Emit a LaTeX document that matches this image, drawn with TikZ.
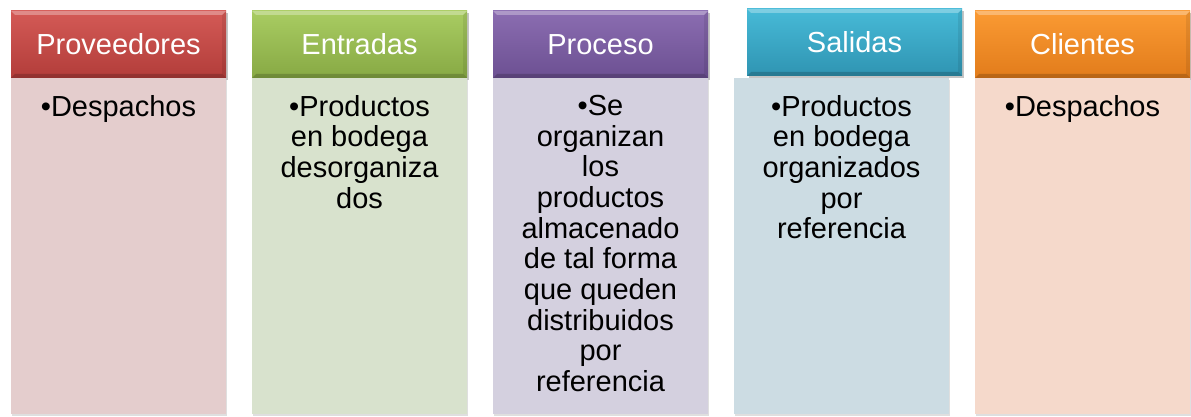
\documentclass[tikz,border=0pt]{standalone}
\usepackage{fontspec}
\setmainfont{Liberation Sans}
\usepackage{tikz}
\usetikzlibrary{positioning,shadows}

% Header and body colours
\definecolor{c1top}{HTML}{D45A56}\definecolor{c1bot}{HTML}{B23D3A}\definecolor{c1body}{HTML}{E4CDCD}
\definecolor{c2top}{HTML}{A9CC62}\definecolor{c2bot}{HTML}{87A944}\definecolor{c2body}{HTML}{D8E2CD}
\definecolor{c3top}{HTML}{8B6DB1}\definecolor{c3bot}{HTML}{6C5092}\definecolor{c3body}{HTML}{D4D0DF}
\definecolor{c4top}{HTML}{47BAD7}\definecolor{c4bot}{HTML}{2F94B2}\definecolor{c4body}{HTML}{CCDCE3}
\definecolor{c5top}{HTML}{FA9A33}\definecolor{c5bot}{HTML}{E27C1B}\definecolor{c5body}{HTML}{F5D9CB}

\tikzset{
  bevel/.style={path picture={
    \fill[white,opacity=.3] (path picture bounding box.north west) -- (path picture bounding box.north east)
      -- ([xshift=-3pt,yshift=-3pt]path picture bounding box.north east) -- ([xshift=3pt,yshift=-3pt]path picture bounding box.north west) -- cycle;
    \fill[black,opacity=.18] (path picture bounding box.south west) -- (path picture bounding box.south east)
      -- ([xshift=-3pt,yshift=3pt]path picture bounding box.south east) -- ([xshift=3pt,yshift=3pt]path picture bounding box.south west) -- cycle;
    \fill[black,opacity=.08] (path picture bounding box.north east) -- (path picture bounding box.south east)
      -- ([xshift=-3pt,yshift=3pt]path picture bounding box.south east) -- ([xshift=-3pt,yshift=-3pt]path picture bounding box.north east) -- cycle;
  }},
  header/.style={minimum width=161.25pt, minimum height=50.25pt, inner sep=0pt, text=white,
    font=\fontsize{21.75}{23}\selectfont, bevel,
    drop shadow={shadow xshift=1.2pt, shadow yshift=-1.8pt, opacity=.45}},
  bodybox/.style={minimum width=161.25pt, minimum height=252pt, inner sep=0pt, anchor=north,
    drop shadow={shadow xshift=1pt, shadow yshift=-1pt, opacity=.25}},
  bodytext/.style={align=center, inner sep=0pt, anchor=north, font=\fontsize{21.75}{23}\selectfont}
}

\begin{document}
\begin{tikzpicture}[x=0.75pt,y=-0.75pt]
    \useasboundingbox[fill=white] (0,0) rectangle (1191,417);

    % Headers
    \foreach \n/\x/\y/\t in {1/118.5/44.5/Proveedores, 2/359.5/44.5/Entradas, 3/600.5/44.5/Proceso, 4/854.5/42.5/Salidas, 5/1082.5/44.5/Clientes} {
      \node[header, top color=c\n top, bottom color=c\n bot] (h\n) at (\x,\y) {\t};
    }

    % Bodies with their text
    \foreach \n/\x/\t in {1/118.5/{•Despachos},
        2/359.5/{•Productos\\en bodega\\desorganiza\\dos},
        3/600.5/{•Se\\organizan\\los\\productos\\almacenado\\de tal forma\\que queden\\distribuidos\\por\\referencia},
        4/841.5/{•Productos\\en bodega\\organizados\\por\\referencia},
        5/1082.5/{•Despachos}} {
      \node[bodybox, fill=c\n body] (b\n) at (\x,78) {};
      \node[bodytext] (t\n) at ([yshift=-12.7pt]b\n.north) {\t};
    }
  \end{tikzpicture}
\end{document}
